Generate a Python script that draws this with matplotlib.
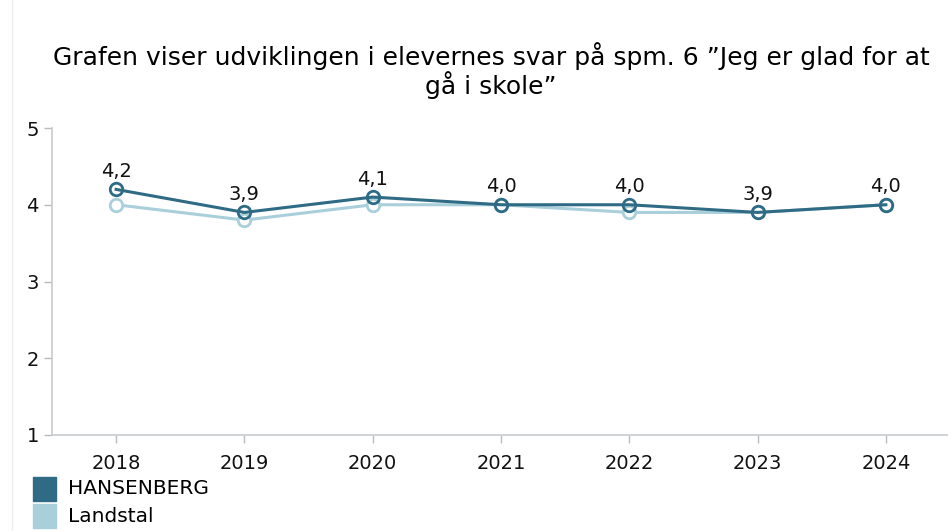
import matplotlib.pyplot as plt
from matplotlib.patches import Rectangle

# data
years = ['2018', '2019', '2020', '2021', '2022', '2023', '2024']
hansenberg = [4.2, 3.9, 4.1, 4.0, 4.0, 3.9, 4.0]
landstal = [4.0, 3.8, 4.0, 4.0, 3.9, 3.9, 4.0]

dark = '#2f6b85'
light = '#a9cfdb'

fig = plt.figure(figsize=(9.48, 5.31), dpi=100)
ax = fig.add_axes([52 / 948, 1 - 435 / 531, (950 - 52) / 948, (435 - 128) / 531])

x = list(range(len(years)))
ax.plot(x, landstal, color=light, lw=2.2, marker='o', ms=9, mfc='white',
        mec=light, mew=2, zorder=2)
ax.plot(x, hansenberg, color=dark, lw=2.2, marker='o', ms=9, mfc='none',
        mec=dark, mew=2, zorder=3)

for xi, v in zip(x, hansenberg):
    ax.annotate(f'{v:.1f}'.replace('.', ','), (xi, v), xytext=(0, 6),
                textcoords='offset points', ha='center', va='bottom',
                fontsize=14, color='#111111')

ax.set_xlim(-0.5, 6.5)
ax.set_ylim(1, 5)
ax.set_yticks([1, 2, 3, 4, 5])
ax.set_xticks(x)
ax.set_xticklabels(years)
ax.tick_params(axis='both', labelsize=14, colors='#bbbbbb', labelcolor='#111111',
               length=6, width=1)
ax.tick_params(axis='x', pad=8)
for s in ['top', 'right']:
    ax.spines[s].set_visible(False)
for s in ['left', 'bottom']:
    ax.spines[s].set_color('#c8ccd0')
    ax.spines[s].set_linewidth(1.2)

fig.text(491 / 948, 1 - 42 / 531,
         'Grafen viser udviklingen i elevernes svar på spm. 6 ”Jeg er glad for at\ngå i skole”',
         ha='center', va='top', fontsize=18, linespacing=1.05)

# legend
for i, (name, col) in enumerate([('HANSENBERG', dark), ('Landstal', light)]):
    y0 = 1 - (501 + i * 27) / 531
    fig.patches.append(Rectangle((33 / 948, y0), 23 / 948, 24 / 531,
                                 transform=fig.transFigure, color=col))
    fig.text(68 / 948, y0 + 12 / 531, name, ha='left', va='center', fontsize=14.5)

# faint left border
fig.add_artist(plt.Line2D([12 / 948, 12 / 948], [0, 1], color='#eeeeee', lw=1))

fig.savefig('out.png', dpi=100)
